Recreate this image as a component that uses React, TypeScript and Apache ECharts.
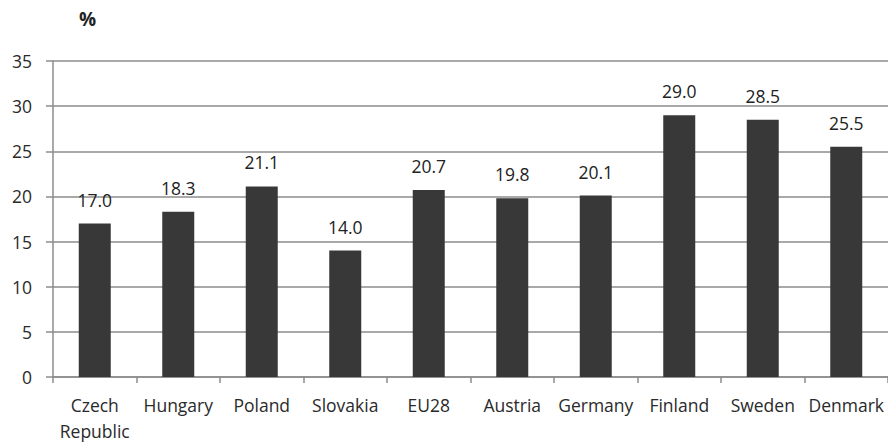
import React, { useEffect, useRef } from "react";
import * as echarts from "echarts";

const categories = ["Czech\nRepublic", "Hungary", "Poland", "Slovakia", "EU28", "Austria", "Germany", "Finland", "Sweden", "Denmark"];
const values = [17.0, 18.3, 21.1, 14.0, 20.7, 19.8, 20.1, 29.0, 28.5, 25.5];
const yMin = 0;
const yMax = 35;
const yStep = 5;
const unitLabel = "%";

const FONT = "'Open Sans', 'Noto Sans', sans-serif";

export default function App() {
  const ref = useRef<HTMLDivElement>(null);
  useEffect(() => {
    if (!ref.current) return;
    const chart = echarts.init(ref.current, undefined, { renderer: "svg" });
    chart.setOption({
      animation: false,
      backgroundColor: "#ffffff",
      textStyle: { fontFamily: FONT },
      graphic: [
        {
          type: "text",
          left: 79,
          top: 9,
          style: { text: unitLabel, font: `bold 19px ${FONT}`, fill: "#222" },
        },
      ],
      grid: { left: 53, right: 0, top: 61, bottom: 69, containLabel: false },
      xAxis: {
        type: "category",
        data: categories,
        axisLine: { show: true, lineStyle: { color: "#8c8c8c", width: 1.5 } },
        axisTick: { show: true, length: 6, alignWithLabel: false, lineStyle: { color: "#8c8c8c", width: 1.5 } },
        axisLabel: { color: "#2a2a2a", fontSize: 17.5, fontFamily: FONT, margin: 15, lineHeight: 26, interval: 0 },
      },
      yAxis: {
        type: "value",
        min: yMin,
        max: yMax,
        interval: yStep,
        axisLine: { show: true, lineStyle: { color: "#8c8c8c", width: 1.5 } },
        axisTick: { show: true, length: 7, lineStyle: { color: "#8c8c8c", width: 1.5 } },
        splitLine: { show: true, lineStyle: { color: "#8c8c8c", width: 1.5 } },
        axisLabel: { color: "#2a2a2a", fontSize: 17.5, fontFamily: FONT, margin: 21 },
      },
      series: [
        {
          type: "bar",
          data: values,
          barWidth: 32,
          itemStyle: { color: "#383838" },
          label: {
            show: true,
            position: "top",
            distance: 15,
            color: "#222",
            fontSize: 17.5,
            fontFamily: FONT,
            formatter: (p: any) => Number(p.value).toFixed(1),
          },
        },
      ],
    });
    return () => chart.dispose();
  }, []);
  return <div ref={ref} style={{ position: "absolute", left: 0, top: 0, width: 888, height: 446 }} />;
}
